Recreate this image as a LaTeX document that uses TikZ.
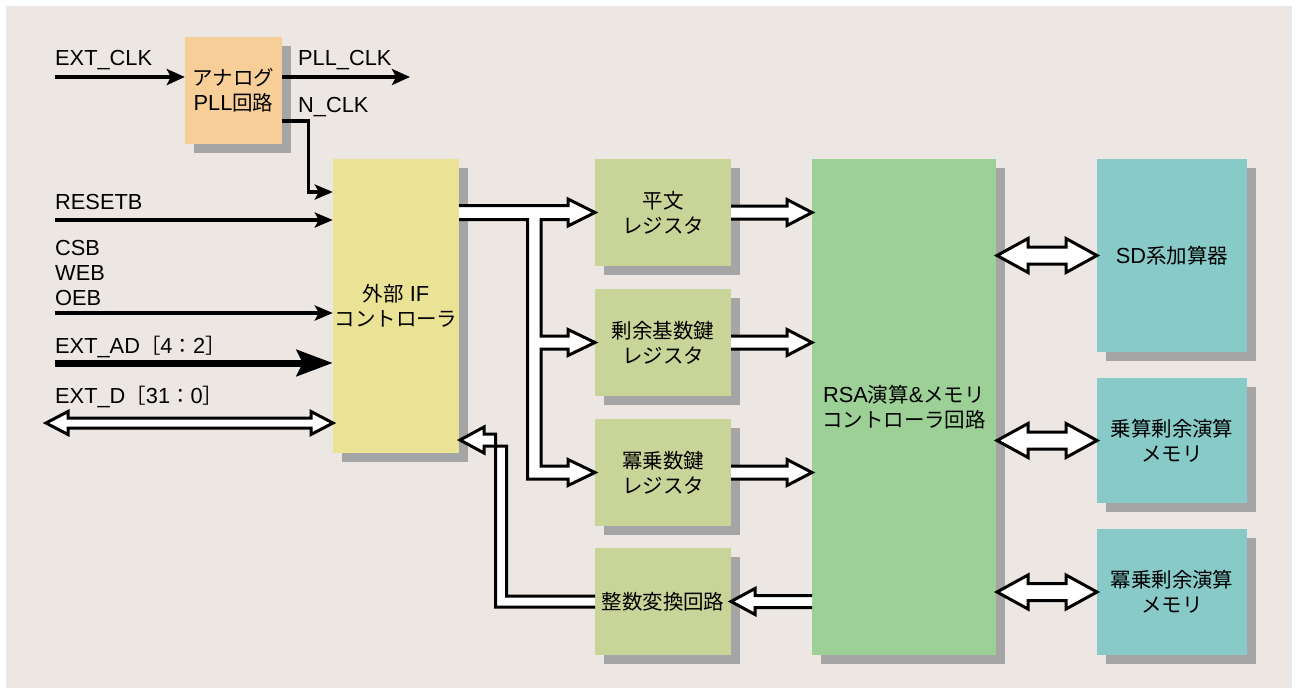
\documentclass[tikz,border=0pt]{standalone}
\usepackage{fontspec}
\setmainfont{Liberation Sans}
\newfontfamily\cjk[Scale=0.94]{Noto Sans CJK JP}
\usetikzlibrary{arrows.meta,shadows}
\definecolor{bgc}{HTML}{ECE7E3}
\definecolor{pllc}{HTML}{F8CE98}
\definecolor{ifc}{HTML}{EAE294}
\definecolor{regc}{HTML}{C9D598}
\definecolor{rsac}{HTML}{9CD096}
\definecolor{cyc}{HTML}{87CAC8}
\definecolor{shc}{HTML}{A5A5A5}
\newcommand\myRarrow[6]{\filldraw[hol] (#1,{#3-#5}) -- ({#2-#4},{#3-#5}) -- ({#2-#4},{#3-#6}) -- (#2,#3) -- ({#2-#4},{#3+#6}) -- ({#2-#4},{#3+#5}) -- (#1,{#3+#5});}
\newcommand\myLarrow[6]{\filldraw[hol] (#1,{#3-#5}) -- ({#2+#4},{#3-#5}) -- ({#2+#4},{#3-#6}) -- (#2,#3) -- ({#2+#4},{#3+#6}) -- ({#2+#4},{#3+#5}) -- (#1,{#3+#5});}
\newcommand\myDarrow[6]{\filldraw[hol] (#1,#3) -- ({#1+#4},{#3-#6}) -- ({#1+#4},{#3-#5}) -- ({#2-#4},{#3-#5}) -- ({#2-#4},{#3-#6}) -- (#2,#3) -- ({#2-#4},{#3+#6}) -- ({#2-#4},{#3+#5}) -- ({#1+#4},{#3+#5}) -- ({#1+#4},{#3+#6}) -- cycle;}
\begin{document}
\begin{tikzpicture}[x=1pt,y=-1pt,
  txt/.style={font=\fontsize{21.8}{25}\selectfont},
  lbl/.style={txt,anchor=base west,inner sep=0pt},
  blk/.style={txt,align=center,inner sep=0pt,draw=none,
    general shadow={fill=shc,shadow xshift=9pt,shadow yshift=-9pt}},
  hol/.style={fill=white,draw=black,line width=3pt,line join=miter},
  sig/.style={draw=black,line width=4pt,-{Stealth[length=18pt,width=16pt,inset=4pt]}},
]
\useasboundingbox (0,0) rectangle (1296,689);
\fill[bgc] (6,6) rectangle (1292,688);

% blocks
\node[blk,fill=pllc,minimum width=97pt,minimum height=107pt] (pll) at (233.5,90.5) {{\cjk アナログ}\\PLL{\cjk 回路}};
\node[blk,fill=ifc,minimum width=126pt,minimum height=294pt] (if) at (396,306) {{\cjk 外部} IF\\{\cjk コントローラ}};
\node[blk,fill=regc,minimum width=136pt,minimum height=107pt] (r1) at (663,212.5) {{\cjk 平文}\\{\cjk レジスタ}};
\node[blk,fill=regc,minimum width=136pt,minimum height=107pt] (r2) at (663,342.5) {{\cjk 剰余基数鍵}\\{\cjk レジスタ}};
\node[blk,fill=regc,minimum width=136pt,minimum height=107pt] (r3) at (663,472.5) {{\cjk 冪乗数鍵}\\{\cjk レジスタ}};
\node[blk,fill=regc,minimum width=136pt,minimum height=107pt] (r4) at (663,601.5) {{\cjk 整数変換回路}};
\node[blk,fill=rsac,minimum width=184pt,minimum height=496pt] (rsa) at (904,407) {RSA{\cjk 演算}\&{\cjk メモリ}\\{\cjk コントローラ回路}};
\node[blk,fill=cyc,minimum width=150pt,minimum height=193pt] (c1) at (1172,255.5) {SD{\cjk 系加算器}};
\node[blk,fill=cyc,minimum width=150pt,minimum height=125pt] (c2) at (1172,440.5) {{\cjk 乗算剰余演算}\\{\cjk メモリ}};
\node[blk,fill=cyc,minimum width=150pt,minimum height=126pt] (c3) at (1172,592) {{\cjk 冪乗剰余演算}\\{\cjk メモリ}};

% labels
\node[lbl] (lextclk) at (55,65) {EXT\_CLK};
\node[lbl] (lpllclk) at (298,65) {PLL\_CLK};
\node[lbl] (lnclk) at (298,112) {N\_CLK};
\node[lbl] (lreset) at (55,209) {RESETB};
\node[lbl] (lcsb) at (55,255) {CSB};
\node[lbl] (lweb) at (55,280) {WEB};
\node[lbl] (loeb) at (55,305) {OEB};
\node[lbl] (lad) at (55,353) {EXT\_AD{\cjk ［}4{\cjk ：}2{\cjk ］}};
\node[lbl] (ld) at (55,403) {EXT\_D{\cjk ［}31{\cjk ：}0{\cjk ］}};

% free ends
\coordinate (extclk) at (55,77);
\coordinate (pllclk) at (410,77);
\coordinate (nclk) at (282,121);
\coordinate (reset) at (55,220);
\coordinate (oeb) at (55,313);
\coordinate (ad) at (55,363);

% signal arrows
\draw[sig] (extclk) -- (pll.west|-extclk);
\draw[sig] (pll.east|-extclk) -- (pllclk);
\draw[sig,line width=3.5pt,-{Stealth[length=18pt,width=15pt,inset=4pt]},line join=miter] (nclk) -- (308.5,121) -- (308.5,192) -- (if.west|-0,192);
\draw[sig,line width=3.5pt,-{Stealth[length=18pt,width=15pt,inset=4pt]}] (reset) -- (if.west|-reset);
\draw[sig,line width=3.5pt,-{Stealth[length=18pt,width=15pt,inset=4pt]}] (oeb) -- (if.west|-oeb);
\draw[sig,line width=7pt,-{Stealth[length=36pt,width=26pt,inset=6pt]}] (ad) -- (if.west|-ad);

% hollow bus arrows
\myDarrow{46}{333}{423}{22}{5}{11.5}
\filldraw[hol] (459,205.5) -- (568,205.5) -- (568,199) -- (595,212.5) -- (568,226) -- (568,219.5) -- (541,219.5) -- (541,336) -- (568,336) -- (568,329.5) -- (595,342.5) -- (568,355.5) -- (568,349) -- (541,349) -- (541,466) -- (568,466) -- (568,459.5) -- (595,472.5) -- (568,485.5) -- (568,479) -- (527.5,479) -- (527.5,219.5) -- (459,219.5);
\myRarrow{731}{812}{212.5}{25}{6.5}{13}
\myRarrow{731}{812}{342.5}{25}{6.5}{13}
\myRarrow{731}{812}{472.5}{25}{6.5}{13}
\myLarrow{812}{731}{601.5}{24}{6}{13}
\filldraw[hol] (595,596) -- (506.5,596) -- (506.5,446) -- (484,446) -- (484,453) -- (460,440) -- (484,427) -- (484,434) -- (495.5,434) -- (495.5,607) -- (595,607);
\myDarrow{997}{1097}{255.5}{31}{8.5}{17}
\myDarrow{997}{1097}{440.5}{31}{8.5}{17}
\myDarrow{997}{1097}{592}{31}{8.5}{17}
\end{tikzpicture}
\end{document}
